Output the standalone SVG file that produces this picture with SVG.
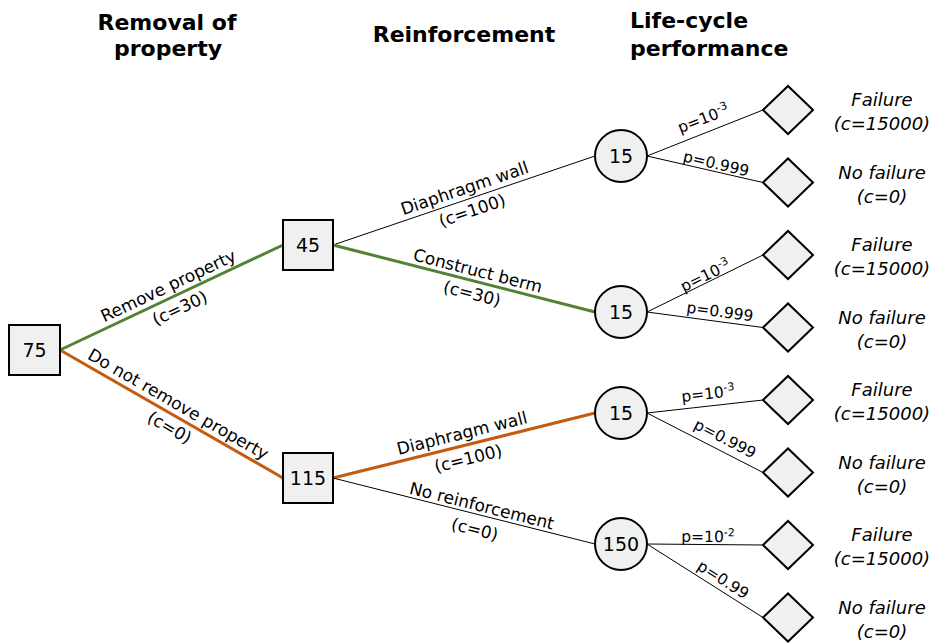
<svg xmlns="http://www.w3.org/2000/svg" width="935" height="644" viewBox="0 0 935 644">
<style>
text{font-family:"DejaVu Sans","Liberation Sans",sans-serif;fill:#000}
.hdr{font-weight:bold;font-size:22px}
.nt{font-size:19px;text-anchor:middle}
.el{font-size:17px;text-anchor:middle}
.pl{font-size:15.5px;text-anchor:middle}
.sup{font-size:11px}
.tl{font-size:18px;font-style:italic;text-anchor:middle}
.node{fill:#f0f0f0;stroke:#000;stroke-width:2}
.thin{stroke:#000;stroke-width:1;fill:none}
.green{stroke:#548235;stroke-width:3;fill:none}
.orange{stroke:#c55a11;stroke-width:3;fill:none}
</style>
<rect width="935" height="644" fill="#fff"/>
<g id="headers">
<text class="hdr" x="167" y="30" text-anchor="middle">Removal of</text>
<text class="hdr" x="168" y="56" text-anchor="middle">property</text>
<text class="hdr" x="464" y="42" text-anchor="middle">Reinforcement</text>
<text class="hdr" x="630" y="28">Life-cycle</text>
<text class="hdr" x="630" y="56">performance</text>
</g>
<g id="connectors">
<line class="green" x1="60" y1="350" x2="283" y2="245"/>
<line class="orange" x1="60" y1="350" x2="283" y2="478"/>
<line class="thin" x1="333" y1="245" x2="595" y2="156"/>
<line class="green" x1="333" y1="245" x2="595" y2="312"/>
<line class="orange" x1="333" y1="478" x2="595" y2="413"/>
<line class="thin" x1="333" y1="478" x2="595" y2="544"/>
<line class="thin" x1="647" y1="156" x2="763" y2="110"/>
<line class="thin" x1="647" y1="156" x2="763" y2="182.5"/>
<line class="thin" x1="647" y1="312" x2="763" y2="255"/>
<line class="thin" x1="647" y1="312" x2="763" y2="327.5"/>
<line class="thin" x1="647" y1="413" x2="763" y2="400"/>
<line class="thin" x1="647" y1="413" x2="763" y2="472.5"/>
<line class="thin" x1="647" y1="544" x2="763" y2="545"/>
<line class="thin" x1="647" y1="544" x2="763" y2="617.5"/>
<g transform="translate(171.5,297.5) rotate(-25.21)"><text class="el" x="2" y="-6">Remove property</text><text class="el" x="3" y="19">(c=30)</text></g>
<g transform="translate(171.5,414) rotate(29.86)"><text class="el" x="1" y="-6">Do not remove property</text><text class="el" x="5" y="18.5">(c=0)</text></g>
<g transform="translate(464,200.5) rotate(-18.76)"><text class="el" x="4.5" y="-5.5">Diaphragm wall</text><text class="el" x="4.5" y="18">(c=100)</text></g>
<g transform="translate(464,278.5) rotate(14.35)"><text class="el" x="11.5" y="-5">Construct berm</text><text class="el" x="11.5" y="18.5">(c=30)</text></g>
<g transform="translate(464,445.5) rotate(-13.93)"><text class="el" x="1" y="-6.5">Diaphragm wall</text><text class="el" x="1" y="19.5">(c=100)</text></g>
<g transform="translate(464,511) rotate(14.14)"><text class="el" x="16" y="-3.5">No reinforcement</text><text class="el" x="15" y="21">(c=0)</text></g>
<g transform="translate(703,118) rotate(-21.2)"><text class="pl" y="6">p=10<tspan class="sup" dy="-6">-3</tspan></text></g>
<g transform="translate(716,164) rotate(12.9)"><text class="pl" y="5">p=0.999</text></g>
<g transform="translate(705,275) rotate(-26.2)"><text class="pl" y="6">p=10<tspan class="sup" dy="-6">-3</tspan></text></g>
<g transform="translate(720,312) rotate(7.6)"><text class="pl" y="5">p=0.999</text></g>
<g transform="translate(708,393) rotate(-6.4)"><text class="pl" y="6">p=10<tspan class="sup" dy="-6">-3</tspan></text></g>
<g transform="translate(725,439) rotate(27.2)"><text class="pl" y="5">p=0.999</text></g>
<g transform="translate(708,536) rotate(0.4)"><text class="pl" y="6">p=10<tspan class="sup" dy="-6">-2</tspan></text></g>
<g transform="translate(723,580) rotate(32.4)"><text class="pl" y="5">p=0.99</text></g>
</g>
<g id="n75"><rect class="node" x="9" y="325" width="51" height="50"/><text class="nt" x="34.5" y="357">75</text></g>
<g id="n45"><rect class="node" x="283" y="220" width="50" height="50"/><text class="nt" x="308" y="252">45</text></g>
<g id="n115"><rect class="node" x="283" y="453" width="50" height="50"/><text class="nt" x="308" y="485">115</text></g>
<g id="c1"><circle class="node" cx="621" cy="156" r="26"/><text class="nt" x="621" y="163">15</text></g>
<g id="c2"><circle class="node" cx="621" cy="312" r="26"/><text class="nt" x="621" y="319">15</text></g>
<g id="c3"><circle class="node" cx="621" cy="413" r="26"/><text class="nt" x="621" y="420">15</text></g>
<g id="c4"><circle class="node" cx="621" cy="544" r="26"/><text class="nt" x="621" y="551">150</text></g>
<g id="d1"><polygon class="node" points="763,110 788,86 813,110 788,134"/><text class="tl" x="882" y="106">Failure</text><text class="tl" x="882" y="130">(c=15000)</text></g>
<g id="d2"><polygon class="node" points="763,182.5 788,158.5 813,182.5 788,206.5"/><text class="tl" x="882" y="178.5">No failure</text><text class="tl" x="882" y="202.5">(c=0)</text></g>
<g id="d3"><polygon class="node" points="763,255 788,231 813,255 788,279"/><text class="tl" x="882" y="251">Failure</text><text class="tl" x="882" y="275">(c=15000)</text></g>
<g id="d4"><polygon class="node" points="763,327.5 788,303.5 813,327.5 788,351.5"/><text class="tl" x="882" y="323.5">No failure</text><text class="tl" x="882" y="347.5">(c=0)</text></g>
<g id="d5"><polygon class="node" points="763,400 788,376 813,400 788,424"/><text class="tl" x="882" y="396">Failure</text><text class="tl" x="882" y="420">(c=15000)</text></g>
<g id="d6"><polygon class="node" points="763,472.5 788,448.5 813,472.5 788,496.5"/><text class="tl" x="882" y="468.5">No failure</text><text class="tl" x="882" y="492.5">(c=0)</text></g>
<g id="d7"><polygon class="node" points="763,545 788,521 813,545 788,569"/><text class="tl" x="882" y="541">Failure</text><text class="tl" x="882" y="565">(c=15000)</text></g>
<g id="d8"><polygon class="node" points="763,617.5 788,593.5 813,617.5 788,641.5"/><text class="tl" x="882" y="613.5">No failure</text><text class="tl" x="882" y="637.5">(c=0)</text></g>
</svg>
